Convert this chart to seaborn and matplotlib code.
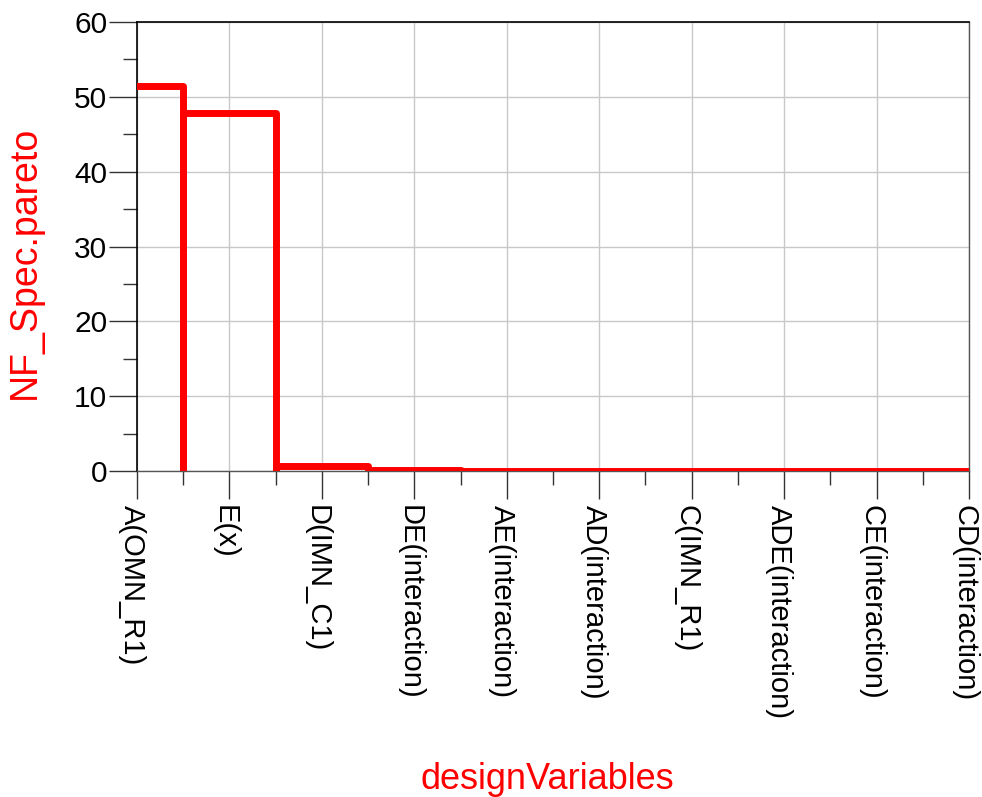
import matplotlib
matplotlib.use("Agg")
import matplotlib.pyplot as plt
import matplotlib.transforms as mtransforms
from matplotlib.ticker import MultipleLocator
import seaborn as sns
import pandas as pd

categories = ["A(OMN_R1)", "E(x)", "D(IMN_C1)", "DE(interaction)", "AE(interaction)",
              "AD(interaction)", "C(IMN_R1)", "ADE(interaction)", "CE(interaction)",
              "CD(interaction)"]
values = [51.4, 47.8, 0.65, 0.2, 0.05, 0.03, 0.02, 0.02, 0.01, 0.01]

sns.set_style("white")
plt.rcParams['font.family'] = ['Liberation Sans', 'DejaVu Sans']
plt.rcParams['text.color'] = 'black'
plt.rcParams['xtick.color'] = 'black'
plt.rcParams['ytick.color'] = 'black'

# outline of each bar (pareto step drawing): up at left edge, across, down at right edge
xs, ys = [], []
for i, v in enumerate(values):
    xs += [i - 0.5, i - 0.5, i + 0.5, i + 0.5]
    ys += [0, v, v, 0]
df = pd.DataFrame({"x": xs, "y": ys})

fig = plt.figure(figsize=(9.82, 7.97), dpi=100)
ax = fig.add_axes([137/982, 1-471/797, (969-137)/982, (471-22)/797])

ax.grid(True, which='major', color='#c8c8c8', linewidth=1.0)
ax.set_axisbelow(True)

sns.lineplot(data=df, x="x", y="y", sort=False, estimator=None, color='#ff0000',
             linewidth=5, ax=ax, zorder=3)

ax.set_xlim(0, len(categories) - 1)
ax.set_ylim(0, 60)
ax.set_xticks(range(len(categories)))
ax.set_xticklabels(categories, rotation=270, ha='center', va='top', fontsize=21,
                   color='black')
ax.xaxis.set_minor_locator(MultipleLocator(0.5))
ax.yaxis.set_major_locator(MultipleLocator(10))
ax.yaxis.set_minor_locator(MultipleLocator(5))
ax.tick_params(axis='y', which='major', direction='out', length=20, width=1,
               color='#333333', labelsize=21.5, labelcolor='black', pad=1.5, left=True)
ax.tick_params(axis='y', which='minor', direction='out', length=10, width=1,
               color='#333333', left=True)
ax.tick_params(axis='x', which='major', direction='out', length=20, width=1,
               color='#333333', pad=4.5, bottom=True)
ax.tick_params(axis='x', which='minor', direction='out', length=10, width=1,
               color='#333333', bottom=True)

shift = mtransforms.ScaledTranslation(-5/100, 0, fig.dpi_scale_trans)
for lab in ax.get_xticklabels():
    lab.set_transform(lab.get_transform() + shift)

for s in ['left', 'top']:
    ax.spines[s].set_color('black')
    ax.spines[s].set_linewidth(1.2)
for s in ['right', 'bottom']:
    ax.spines[s].set_color('#555555')
    ax.spines[s].set_linewidth(1.0)

ax.set_xlabel("designVariables", color='#ff0000', fontsize=26)
ax.set_ylabel("NF_Spec.pareto", color='#ff0000', fontsize=27)
ax.xaxis.set_label_coords((547-137)/832, (471-762)/449)
ax.yaxis.set_label_coords((43-137)/832, (471-262)/449)

fig.savefig("out.png", dpi=100)
